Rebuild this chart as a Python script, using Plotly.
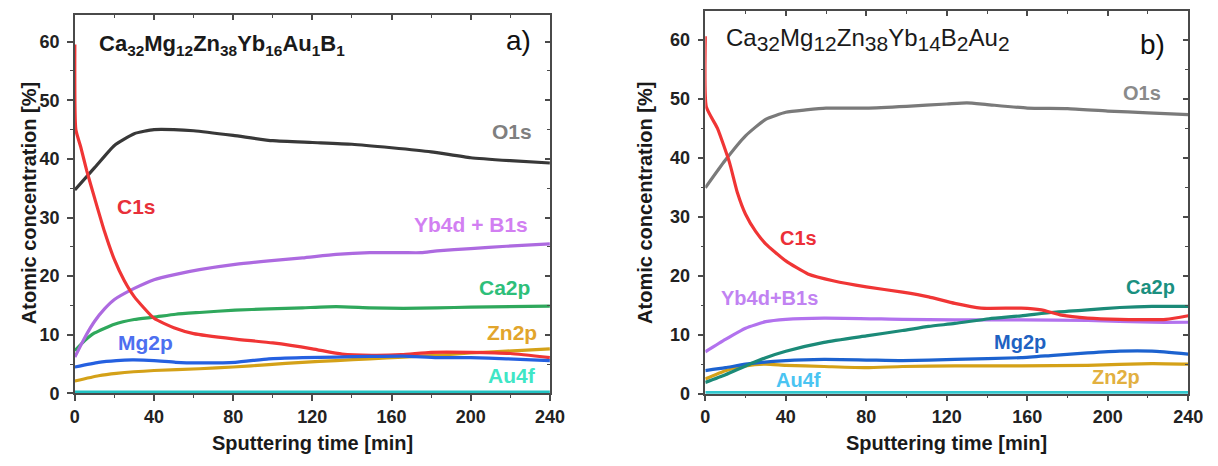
import plotly.graph_objects as go

# ---------------- data: panel a) Ca32Mg12Zn38Yb16Au1B1 ----------------
a_c1s_x = [0, 0.5, 3, 6, 10, 15, 20, 25, 30, 40, 50, 60, 80, 100, 120, 135, 150, 165, 180, 200, 220, 240]
a_c1s_y = [59.5, 45, 42, 38, 33.3, 27.6, 22.8, 19.2, 16.5, 12.8, 11.2, 10.2, 9.3, 8.6, 7.6, 6.7, 6.5, 6.6, 7.0, 7.0, 6.8, 6.1]
a_o1s_x = [0, 10, 20, 30, 40, 50, 60, 80, 100, 120, 140, 160, 180, 200, 220, 240]
a_o1s_y = [34.7, 38.5, 42.3, 44.3, 45.0, 45.0, 44.8, 44.0, 43.1, 42.8, 42.5, 41.9, 41.2, 40.2, 39.7, 39.3]
a_yb_x = [0, 5, 10, 15, 20, 30, 40, 51, 63, 81, 98, 115, 132, 149, 166, 175, 183, 200, 218, 240]
a_yb_y = [6.2, 9.5, 12.3, 14.4, 16.0, 17.9, 19.4, 20.3, 21.1, 22.0, 22.6, 23.1, 23.7, 24.0, 24.0, 24.0, 24.3, 24.7, 25.1, 25.5]
a_ca_x = [0, 5, 10, 20, 30, 40, 51, 63, 81, 98, 115, 132, 149, 166, 183, 200, 240]
a_ca_y = [7.3, 9.0, 10.3, 11.8, 12.6, 13.0, 13.5, 13.8, 14.2, 14.4, 14.6, 14.8, 14.6, 14.5, 14.6, 14.7, 14.9]
a_mg_x = [0, 12, 21, 29, 40, 51, 63, 81, 98, 115, 132, 149, 166, 183, 200, 218, 240]
a_mg_y = [4.5, 5.3, 5.6, 5.7, 5.6, 5.3, 5.2, 5.3, 5.9, 6.1, 6.2, 6.3, 6.35, 6.1, 6.1, 5.9, 5.6]
a_zn_x = [0, 12, 21, 40, 63, 80, 98, 115, 132, 149, 166, 183, 200, 218, 240]
a_zn_y = [2.1, 3.0, 3.4, 3.9, 4.2, 4.5, 4.9, 5.3, 5.6, 5.9, 6.2, 6.5, 6.9, 7.2, 7.6]
a_au_x = [0, 240]
a_au_y = [0.2, 0.2]

# ---------------- data: panel b) Ca32Mg12Zn38Yb14B2Au2 ----------------
b_c1s_x = [0, 0.5, 6, 12, 16, 20, 25, 30, 40, 51, 64, 80, 98, 111, 124, 137, 157, 167, 177, 190, 206, 229, 240]
b_c1s_y = [60.6, 48.6, 45.0, 39.2, 34.0, 30.4, 27.5, 25.4, 22.5, 20.3, 19.1, 18.1, 17.2, 16.4, 15.3, 14.5, 14.5, 14.2, 13.3, 12.8, 12.6, 12.6, 13.2]
b_o1s_x = [0, 10, 20, 30, 40, 50, 60, 80, 100, 120, 130, 140, 160, 180, 200, 220, 240]
b_o1s_y = [34.9, 39.6, 43.7, 46.5, 47.7, 48.1, 48.4, 48.4, 48.7, 49.1, 49.3, 49.0, 48.4, 48.3, 47.9, 47.6, 47.3]
b_yb_x = [0, 10, 20, 30, 40, 59, 98, 124, 157, 190, 222, 240]
b_yb_y = [7.1, 9.2, 11.1, 12.2, 12.6, 12.8, 12.6, 12.5, 12.5, 12.4, 12.1, 12.1]
b_ca_x = [0, 10, 20, 30, 40, 59, 80, 98, 111, 124, 141, 157, 173, 190, 206, 222, 240]
b_ca_y = [1.9, 3.2, 4.7, 6.1, 7.2, 8.7, 9.8, 10.7, 11.4, 11.9, 12.7, 13.2, 13.8, 14.2, 14.6, 14.8, 14.8]
b_mg_x = [0, 10, 20, 40, 59, 80, 98, 124, 157, 173, 190, 206, 222, 240]
b_mg_y = [3.9, 4.4, 5.0, 5.6, 5.8, 5.7, 5.6, 5.8, 6.1, 6.5, 6.9, 7.2, 7.2, 6.7]
b_zn_x = [0, 10, 20, 30, 40, 59, 80, 98, 124, 157, 190, 222, 240]
b_zn_y = [2.5, 3.9, 4.7, 5.0, 4.8, 4.6, 4.4, 4.6, 4.7, 4.7, 4.8, 5.1, 5.0]
b_au_x = [0, 240]
b_au_y = [0.2, 0.2]

x_ticks = [0, 40, 80, 120, 160, 200, 240]
y_ticks = [0, 10, 20, 30, 40, 50, 60]

W, H = 1218, 466
FONT = "Liberation Sans, Arial, sans-serif"

fig = go.Figure()

def add_line(x, y, color, xa, ya, width=3.2):
    fig.add_trace(go.Scatter(x=x, y=y, mode="lines", line=dict(color=color, width=width, shape="spline", smoothing=0.5),
                             xaxis=xa, yaxis=ya, showlegend=False, hoverinfo="skip"))

# panel a
add_line(a_au_x, a_au_y, "#22c3c3", "x", "y")
add_line(a_zn_x, a_zn_y, "#d4a118", "x", "y")
add_line(a_ca_x, a_ca_y, "#2fa85c", "x", "y")
add_line(a_yb_x, a_yb_y, "#ad6ae0", "x", "y")
add_line(a_o1s_x, a_o1s_y, "#383838", "x", "y")
add_line(a_c1s_x, a_c1s_y, "#f03535", "x", "y")
add_line(a_mg_x, a_mg_y, "#2560e0", "x", "y")
# panel b
add_line(b_au_x, b_au_y, "#33c9cf", "x2", "y2")
add_line(b_zn_x, b_zn_y, "#d4a118", "x2", "y2")
add_line(b_mg_x, b_mg_y, "#1c62cf", "x2", "y2")
add_line(b_yb_x, b_yb_y, "#b272ee", "x2", "y2")
add_line(b_ca_x, b_ca_y, "#1b8a78", "x2", "y2")
add_line(b_o1s_x, b_o1s_y, "#7a7a7a", "x2", "y2")
add_line(b_c1s_x, b_c1s_y, "#f03535", "x2", "y2")

# dummy traces to activate the mirrored inside-tick axes
for xa, ya in [("x3", "y3"), ("x4", "y4")]:
    fig.add_trace(go.Scatter(x=[None], y=[None], xaxis=xa, yaxis=ya, showlegend=False, hoverinfo="skip"))

pa_x = [71 / W, 554 / W]
pa_y = [(H - 402) / H, (H - 15) / H]
pb_x = [712 / W, 1203 / W]
pb_y = [(H - 402.3) / H, (H - 11) / H]

tickfont = dict(family=FONT, size=18, color="#222222", weight="bold")
LINEC = "#4a4a4a"

def xax(domain, anchor):
    return dict(domain=domain, anchor=anchor, range=[0, 240], tickvals=x_ticks, ticks="outside", ticklen=6,
                tickwidth=1.5, tickcolor=LINEC, showline=True, linecolor=LINEC, linewidth=1.6, mirror=True,
                showgrid=False, zeroline=False, tickfont=tickfont,
                minor=dict(dtick=20, tick0=0, ticks="outside", ticklen=3, tickwidth=1.2, tickcolor=LINEC))

def yax(domain, anchor, top):
    return dict(domain=domain, anchor=anchor, range=[0, top], tickvals=y_ticks, ticks="outside", ticklen=6,
                tickwidth=1.5, tickcolor=LINEC, showline=True, linecolor=LINEC, linewidth=1.6, mirror=True,
                showgrid=False, zeroline=False, tickfont=tickfont, ticklabelstandoff=4,
                minor=dict(dtick=5, tick0=0, ticks="outside", ticklen=3, tickwidth=1.2, tickcolor=LINEC))

def xtop(domain, anchor, over):
    return dict(domain=domain, anchor=anchor, overlaying=over, side="top", range=[0, 240], tickvals=x_ticks,
                ticks="inside", ticklen=5, tickwidth=1.5, tickcolor=LINEC, showticklabels=False, showline=False,
                showgrid=False, zeroline=False,
                minor=dict(dtick=20, tick0=0, ticks="inside", ticklen=3, tickwidth=1.2, tickcolor=LINEC))

def yright(domain, anchor, over, top):
    return dict(domain=domain, anchor=anchor, overlaying=over, side="right", range=[0, top], tickvals=y_ticks,
                ticks="inside", ticklen=5, tickwidth=1.5, tickcolor=LINEC, showticklabels=False, showline=False,
                showgrid=False, zeroline=False,
                minor=dict(dtick=5, tick0=0, ticks="inside", ticklen=3, tickwidth=1.2, tickcolor=LINEC))

fig.update_layout(
    width=W, height=H, margin=dict(l=0, r=0, t=0, b=0),
    paper_bgcolor="white", plot_bgcolor="white", showlegend=False,
    font=dict(family=FONT),
    xaxis=xax(pa_x, "y"), yaxis=yax(pa_y, "x", 64.6),
    xaxis2=xax(pb_x, "y2"), yaxis2=yax(pb_y, "x2", 64.9),
    xaxis3=xtop(pa_x, "y3", "x"), yaxis3=yright(pa_y, "x3", "y", 64.6),
    xaxis4=xtop(pb_x, "y4", "x2"), yaxis4=yright(pb_y, "x4", "y2", 64.9),
)

ann = []
def lab(text, x, y, color, xr, yr, size=21, bold=True, xanchor="center"):
    t = f"<b>{text}</b>" if bold else text
    ann.append(dict(text=t, x=x, y=y, xref=xr, yref=yr, showarrow=False, xanchor=xanchor, yanchor="middle",
                    font=dict(family=FONT, size=size, color=color)))

# panel a labels
lab("O1s", 221, 44.6, "#7f7f7f", "x", "y")
lab("C1s", 31, 31.9, "#e8303a", "x", "y")
lab("Yb4d + B1s", 200, 28.8, "#d27ff2", "x", "y")
lab("Ca2p", 217, 18.1, "#2ebf7a", "x", "y")
lab("Zn2p", 221, 10.3, "#e2a52c", "x", "y")
lab("Mg2p", 35.6, 8.6, "#4d6ff0", "x", "y")
lab("Au4f", 221, 3.0, "#3fe6c6", "x", "y")
# panel b labels
lab("O1s", 217, 50.9, "#8a8a8a", "x2", "y2", size=20)
lab("C1s", 46.5, 26.4, "#ec2f38", "x2", "y2", size=20)
lab("Yb4d+B1s", 32, 16.2, "#c182f2", "x2", "y2", size=20)
lab("Ca2p", 221, 18.1, "#1a9080", "x2", "y2", size=20)
lab("Mg2p", 156.5, 8.7, "#1f62c2", "x2", "y2", size=20)
lab("Zn2p", 204, 2.9, "#e2b040", "x2", "y2", size=20)
lab("Au4f", 46.5, 2.4, "#4ac4f2", "x2", "y2", size=20)

# panel titles
ann.append(dict(text="<b>Ca<sub>32</sub>Mg<sub>12</sub>Zn<sub>38</sub>Yb<sub>16</sub>Au<sub>1</sub>B<sub>1</sub></b>",
                x=94 / W, y=(H - 46) / H, xref="paper", yref="paper", xanchor="left", yanchor="middle",
                showarrow=False, font=dict(family=FONT, size=22, color="#1a1a1a")))
sub = lambda s: f"<sub><span style='font-size:21px'>{s}</span></sub>"
ann.append(dict(text="Ca" + sub("32") + "Mg" + sub("12") + "Zn" + sub("38") + "Yb" + sub("14") + "B" + sub("2") + "Au" + sub("2"),
                x=731 / W, y=(H - 40) / H, xref="paper", yref="paper", xanchor="left", yanchor="middle",
                showarrow=False, font=dict(family=FONT, size=24, color="#1a1a1a")))
ann.append(dict(text="a)", x=522 / W, y=(H - 41) / H, xref="paper", yref="paper", xanchor="center", yanchor="middle",
                showarrow=False, font=dict(family=FONT, size=28, color="#111111")))
ann.append(dict(text="b)", x=1167 / W, y=(H - 45) / H, xref="paper", yref="paper", xanchor="center", yanchor="middle",
                showarrow=False, font=dict(family=FONT, size=28, color="#111111")))

# axis titles
for xc, yc in [(24, 208), (650, 207)]:
    ann.append(dict(text="<b>Atomic concentration [%]</b>", x=xc / W, y=(H - yc) / H, xref="paper", yref="paper",
                    xanchor="center", yanchor="middle", textangle=-90, showarrow=False,
                    font=dict(family=FONT, size=20, color="#1a1a1a")))
for xc in [(71 + 554) / 2, (712 + 1203) / 2]:
    ann.append(dict(text="<b>Sputtering time [min]</b>", x=xc / W, y=(H - 453) / H, xref="paper", yref="paper",
                    xanchor="center", yanchor="middle", showarrow=False,
                    font=dict(family=FONT, size=20, color="#1a1a1a")))

fig.update_layout(annotations=ann)
fig.write_html("out.html")
